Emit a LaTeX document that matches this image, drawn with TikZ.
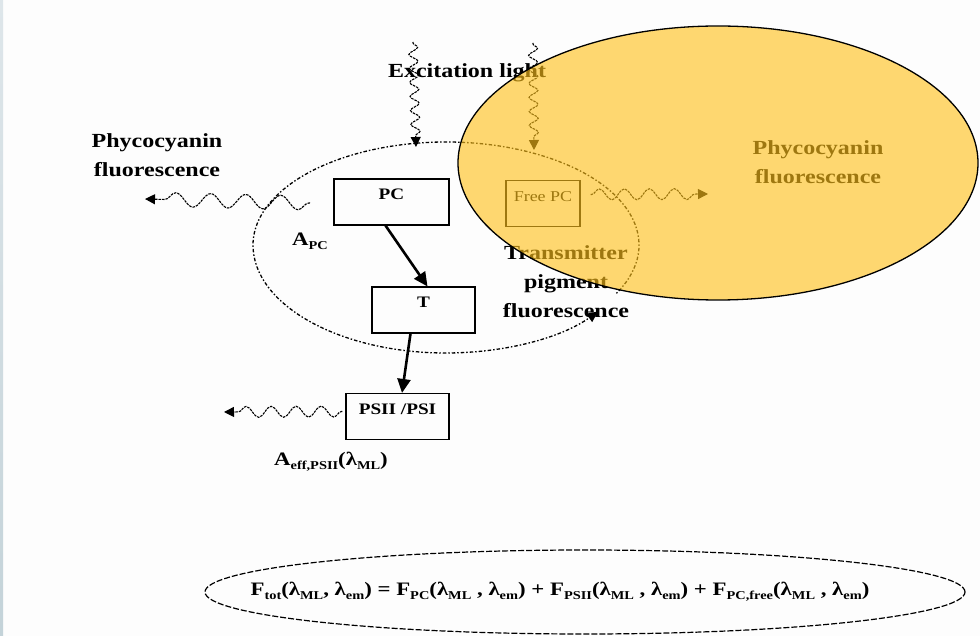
\documentclass[tikz,border=0pt]{standalone}
\usepackage{fontspec}
\setmainfont{Liberation Serif}[FakeStretch=1.2]
\usetikzlibrary{arrows.meta,decorations.pathmorphing,shapes.geometric}
\newcommand\sbs[1]{\raisebox{-0.45ex}{\fontsize{12}{12}\selectfont #1}}
\definecolor{ov}{RGB}{255,193,26}
\definecolor{bgc}{RGB}{253,253,253}
\begin{document}
\begin{tikzpicture}[x=1pt,y=-1pt,
  boxnode/.style={draw, line width=1.1pt, inner xsep=2pt, inner ysep=4pt,
    text height=17pt, text depth=21pt, font=\bfseries\fontsize{16}{16}\selectfont},
  wave/.style={line width=1.1pt, dash pattern=on 2.5pt off 1pt, decorate,
    decoration={snake, amplitude=5.5pt, segment length=25pt, post length=9pt, pre length=1pt},
    -{Triangle[length=10pt,width=10pt]}},
  bigwave/.style={wave, decoration={snake, amplitude=7pt, segment length=35pt, post length=9pt, pre length=1pt}},
  vwave/.style={wave, decoration={snake, amplitude=4.5pt, segment length=14pt, post length=9pt, pre length=1pt}},
  thick arrow/.style={line width=2.6pt, -{Triangle[length=14pt,width=13pt]}},
  lbl/.style={font=\bfseries\fontsize{20}{29}\selectfont, align=center, inner sep=0pt},
]
% background and bounding box
\fill[bgc] (0,0) rectangle (980,636);
\useasboundingbox (0,0) rectangle (980,636);
\shade[top color={rgb,255:red,222;green,230;blue,234}, bottom color={rgb,255:red,196;green,211;blue,217}] (0,0) rectangle (3,636);

% boxes
\node[boxnode, minimum width=115pt] (pc) at (391.5,202) {PC};
\node[boxnode, minimum width=103pt] (t) at (423.5,310) {T};
\node[boxnode, minimum width=103pt] (psii) at (397.5,416.5) {PSII /PSI};
\node[boxnode, minimum width=74pt, font=\fontsize{15}{15}\selectfont] (free) at (543,203.5) {Free PC};

% dotted ellipse with arrow
\draw[line width=1.3pt, dash pattern=on 1.5pt off 2pt on 3.5pt off 2pt, -{Triangle[length=11pt,width=10pt]}]
  (446,245) ++(-28:193pt and 103pt) arc[start angle=-28, end angle=180, x radius=193pt, y radius=103pt]
  arc[start angle=180, end angle=322, x radius=193pt, y radius=108pt];

% thick arrows
\draw[thick arrow] ([xshift=-6pt]pc.south) -- ([xshift=4pt]t.north);
\draw[thick arrow] ([xshift=-13pt]t.south) -- ([xshift=4.5pt]psii.north);

% wavy arrows
\coordinate (exa) at (413,42);
\coordinate (exb) at (416,147);
\coordinate (exc) at (533,43);
\coordinate (exd) at (534,150);
\coordinate (lpa) at (310,203);
\coordinate (lpb) at (145,199);
\coordinate (fpb) at (708,194);
\coordinate (psb) at (224,412);
\draw[vwave] (exa) -- (exb);
\draw[vwave] (exc) -- (exd);
\draw[bigwave] (lpa) -- (lpb);
\draw[wave] ([shift={(10pt,9pt)}]free.east) -- (fpb);
\draw[wave] ([shift={(-3pt,5pt)}]psii.west) -- (psb);

% labels
\node[lbl] (lphy) at (157,155) {Phycocyanin\\fluorescence};
\node[lbl] (exl) at (467,73) {Excitation light};
\node[lbl, font=\bfseries\fontsize{19}{19}\selectfont] (apc) at (310,241) {A\sbs{PC}};
\node[lbl] (trans) at (566,282) {\fontsize{20}{30}\selectfont Transmitter\\pigment\\fluorescence};
\node[lbl] (rphy) at (818,162) {Phycocyanin\\fluorescence};
\node[lbl, font=\bfseries\fontsize{19}{19}\selectfont] (aeff) at (331,462) {A\sbs{eff,PSII}(λ\sbs{ML})};

% equation and dashed ellipse
\draw[line width=1.2pt, dash pattern=on 6pt off 2pt] (585,592) ellipse[x radius=380pt, y radius=42pt];
\node[lbl, font=\bfseries\fontsize{19}{19}\selectfont] (eq) at (560,592)
  {F\sbs{tot}(λ\sbs{ML}, λ\sbs{em}) = F\sbs{PC}(λ\sbs{ML} , λ\sbs{em}) + F\sbs{PSII}(λ\sbs{ML} , λ\sbs{em}) + F\sbs{PC,free}(λ\sbs{ML} , λ\sbs{em})};

% yellow overlay ellipse
\fill[ov, fill opacity=0.62] (718,163) ellipse[x radius=260pt, y radius=137pt];
\draw[line width=1.3pt] (718,163) ellipse[x radius=260pt, y radius=137pt];
\end{tikzpicture}
\end{document}
